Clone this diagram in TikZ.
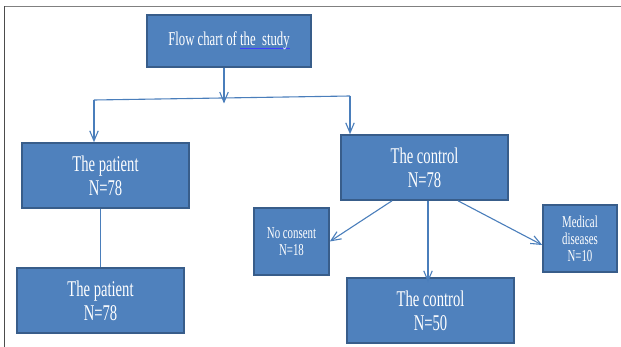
\documentclass[tikz,border=0pt]{standalone}
\usepackage{fontspec}
\setmainfont{Liberation Serif}[FakeStretch=0.65]
\usetikzlibrary{arrows.meta}

\definecolor{boxfill}{HTML}{4F81BD}
\definecolor{boxline}{HTML}{385D8A}
\definecolor{flowline}{HTML}{4A7EBB}

% blue underline, like a grammar mark
\newcommand{\gramul}[1]{\setbox0\hbox{#1}\rlap{\textcolor{blue!75!white}{\rule[-0.35ex]{\wd0}{0.7pt}}}\box0}

\begin{document}
\begin{tikzpicture}[x=1pt,y=-1pt,
  box/.style={draw=boxline, line width=1.6pt, fill=boxfill, text=white,
    align=center, inner sep=0pt, font=\fontsize{22.5}{24.3}\selectfont},
  smallbox/.style={box, font=\fontsize{16.7}{17}\selectfont},
  flow/.style={draw=flowline, line width=1.1pt},
  flowarrow/.style={flow, -{Straight Barb[length=10pt,width=8.5pt]}}]

\useasboundingbox (0,0) rectangle (621,347);

% page frame
\draw[gray, line width=1.5pt] (4.5,6.5) -- (621,6.5);
\draw[black!70, line width=0.9pt] (4.8,6.5) -- (4.8,347);

\node[box, minimum width=164, minimum height=52, font=\fontsize{19.6}{22}\selectfont]
  (title) at (229,41) {Flow chart of \gramul{the\ \ study}};

\node[box, minimum width=167, minimum height=65] (patient) at (105.5,175.5) {The patient\\N=78};
\node[box, minimum width=167, minimum height=65] (patient2) at (100.5,300.5) {The patient\\N=78};
\node[box, minimum width=167, minimum height=65] (control) at (424.5,167.5) {The control\\N=78};
\node[box, minimum width=167, minimum height=65] (control2) at (430.5,310.5) {The control\\N=50};
\node[smallbox, minimum width=75, minimum height=67] (nocon) at (291.5,241.5) {No consent\\N=18};
\node[smallbox, minimum width=74, minimum height=67] (medical) at (580,238.5) {Medical\\diseases\\N=10};

\coordinate (barL) at (94,100);
\coordinate (barR) at (350,96);
\coordinate (barM) at (224,103.5);

\draw[flowarrow] (title.south -| barM) -- (barM);
\draw[flow] (barL) -- (barR);
\draw[flowarrow] (barL) -- (barL |- patient.north);
\draw[flowarrow] (barR) -- (barR |- control.north);

\draw[flow] (patient.south -| patient2.north) -- (patient2.north);

\draw[flowarrow] ([xshift=-32.5pt]control.south) -- (nocon.east);
\draw[flowarrow] ([xshift=3.5pt]control.south) -- ([xshift=-2.5pt,yshift=-5pt]control2.north);
\draw[flowarrow] ([xshift=33.5pt]control.south) -- ([yshift=-6.5pt]medical.west);

\end{tikzpicture}
\end{document}
